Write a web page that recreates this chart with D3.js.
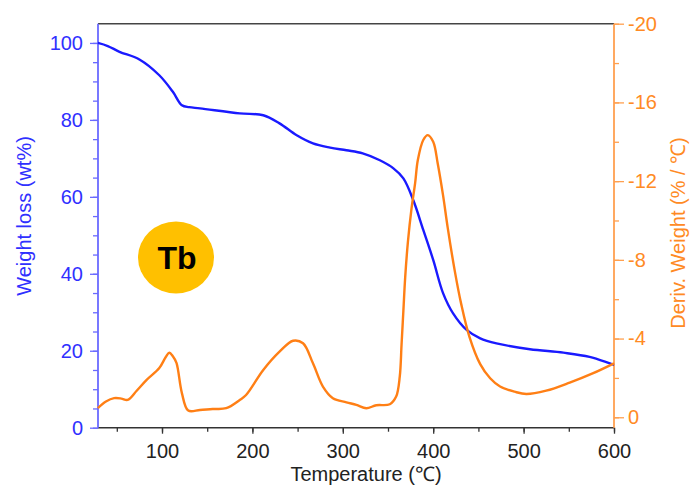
<!DOCTYPE html>
<html><head><meta charset="utf-8">
<script src="https://cdn.jsdelivr.net/npm/d3@7"></script>
<style>body{margin:0;background:#fff}svg{display:block}text{font-family:"Liberation Sans",Arial,sans-serif}</style>
</head><body>
<svg id="c" width="695" height="490"></svg>
<script>
// Data
const tempTGA = [29, 40, 53, 75, 97, 112, 122, 130, 142, 186, 212, 230, 249, 267, 286, 304, 322, 341, 356, 367, 378, 389, 400, 411, 422, 437, 452, 470, 507, 544, 573, 600];
const weight  = [100, 99.2, 97.7, 95.7, 91.6, 87.3, 83.8, 83.3, 83.0, 81.7, 81.2, 79.1, 76.0, 73.9, 72.8, 72.1, 71.3, 69.5, 67.4, 64.8, 59.1, 51.4, 43.6, 34.9, 29.7, 25.4, 23.2, 21.9, 20.4, 19.5, 18.4, 16.3];
const tempDTG = [29, 38, 47, 55, 62, 72, 83, 97, 104, 108, 112, 116, 122, 129, 142, 156, 171, 186, 193, 212, 230, 245, 256, 267, 278, 289, 304, 315, 326, 337, 352, 359, 363, 365, 367, 369, 372, 376, 380, 383, 389, 394, 400, 405, 411, 416, 424, 431, 440, 452, 463, 474, 490, 503, 525, 551, 577, 600];
const deriv   = [-0.47, -0.8, -0.97, -0.95, -0.88, -1.35, -1.9, -2.5, -3.05, -3.28, -3.1, -2.76, -1.23, -0.34, -0.37, -0.42, -0.46, -0.88, -1.13, -2.4, -3.33, -3.89, -3.76, -2.74, -1.56, -0.97, -0.76, -0.63, -0.46, -0.61, -0.66, -1.05, -2.06, -3.7, -5.4, -7.1, -8.9, -10.6, -11.9, -13.07, -14.09, -14.34, -14.0, -12.9, -11.25, -9.65, -7.4, -5.75, -4.1, -2.7, -1.98, -1.56, -1.3, -1.18, -1.35, -1.76, -2.24, -2.74];
const xTicks = [100, 200, 300, 400, 500, 600];
const yLeftTicks = [0, 20, 40, 60, 80, 100];
const yRightTicks = [0, -4, -8, -12, -16, -20];

const svg = d3.select("#c");
const L = 98, R = 614, T = 23.7, B = 427.7;
const x = d3.scaleLinear().domain([29.2, 600]).range([L, R]);
const yL = d3.scaleLinear().domain([0, 105]).range([B, T]);
const yR = d3.scaleLinear().domain([0.53, -20]).range([B, T]);

const blueAxis = "#6a6aff", blueText = "#3030ff", blueLine = "#1a1aff";
const orAxis = "#ffa050", orText = "#ff8a24", orLine = "#ff7f15";
const fs = "20px";

// top frame
svg.append("line").attr("x1", L).attr("x2", R).attr("y1", T).attr("y2", T).attr("stroke", "#444").attr("stroke-width", 1.5);

function style(g, col, tcol) {
  g.select(".domain").remove();
  g.selectAll("line").attr("stroke", col).attr("stroke-width", 1.3);
  g.selectAll("text").attr("fill", tcol).style("font-size", fs);
}
// bottom axis
const gxm = svg.append("g").attr("transform", `translate(0,${B})`)
  .call(d3.axisBottom(x).tickValues(d3.range(50, 601, 50)).tickSize(4).tickFormat(""));
style(gxm, "#333", "#222");
const gx = svg.append("g").attr("transform", `translate(0,${B})`)
  .call(d3.axisBottom(x).tickValues(xTicks).tickSize(6).tickPadding(10));
style(gx, "#333", "#222");
// left axis
const gym = svg.append("g").attr("transform", `translate(${L},0)`)
  .call(d3.axisLeft(yL).tickValues(d3.range(0, 101, 5)).tickSize(5).tickFormat(""));
style(gym, blueAxis, blueText);
const gy = svg.append("g").attr("transform", `translate(${L},0)`)
  .call(d3.axisLeft(yL).tickValues(yLeftTicks).tickSize(8).tickPadding(7));
style(gy, blueAxis, blueText);
// right axis
const grm = svg.append("g").attr("transform", `translate(${R},0)`)
  .call(d3.axisRight(yR).tickValues(d3.range(0, -21, -2)).tickSize(5).tickFormat(""));
style(grm, orAxis, orText);
const gr = svg.append("g").attr("transform", `translate(${R},0)`)
  .call(d3.axisRight(yR).tickValues(yRightTicks).tickSize(10).tickPadding(4).tickFormat(d => d === 0 ? "0" : "-" + Math.abs(d)));
style(gr, orAxis, orText);

// axis lines
svg.append("line").attr("x1", L).attr("x2", R).attr("y1", B).attr("y2", B).attr("stroke", "#333").attr("stroke-width", 1.6);
svg.append("line").attr("x1", L).attr("x2", L).attr("y1", T).attr("y2", B).attr("stroke", blueAxis).attr("stroke-width", 1.8);
svg.append("line").attr("x1", R).attr("x2", R).attr("y1", T).attr("y2", B).attr("stroke", orAxis).attr("stroke-width", 1.8);

// lines
const lineW = d3.line().x((d, i) => x(tempTGA[i])).y(d => yL(d)).curve(d3.curveCatmullRom.alpha(0.5));
svg.append("path").attr("d", lineW(weight)).attr("fill", "none").attr("stroke", blueLine).attr("stroke-width", 2.4);
const lineD = d3.line().x((d, i) => x(tempDTG[i])).y(d => yR(d)).curve(d3.curveCatmullRom.alpha(0.5));
svg.append("path").attr("d", lineD(deriv)).attr("fill", "none").attr("stroke", orLine).attr("stroke-width", 2.4);

// titles
svg.append("text").attr("x", 366).attr("y", 481).attr("text-anchor", "middle").attr("fill", "#222").style("font-size", fs).text("Temperature (℃)");
svg.append("text").attr("transform", "translate(31,216) rotate(-90)").attr("text-anchor", "middle").attr("fill", blueText).style("font-size", fs).text("Weight loss (wt%)");
svg.append("text").attr("transform", "translate(685,233) rotate(-90)").attr("text-anchor", "middle").attr("fill", orText).style("font-size", fs).text("Deriv. Weight (% / ℃)");

// Tb badge
svg.append("ellipse").attr("cx", 176).attr("cy", 257.5).attr("rx", 38).attr("ry", 36).attr("fill", "#ffc000");
svg.append("text").attr("x", 177).attr("y", 269).attr("text-anchor", "middle").attr("fill", "#000").style("font-size", "32px").style("font-weight", "bold").text("Tb");
</script>
</body></html>
